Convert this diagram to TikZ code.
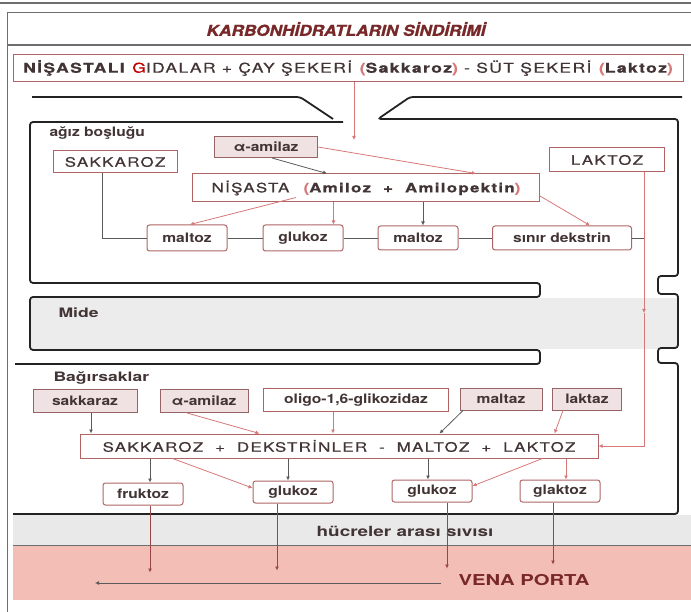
\documentclass[tikz,border=0pt]{standalone}
\usepackage{fontspec}
\setmainfont{TeX Gyre Heros}[FakeStretch=1.2]
\newfontfamily\capsf{TeX Gyre Heros}[FakeStretch=1.3,LetterSpace=10,FakeBold=0.6]
\newfontfamily\widef{TeX Gyre Heros}[FakeStretch=1.35]
\newfontfamily\titlef{texgyreheros-bolditalic.otf}[FakeStretch=1.15,FakeBold=1]
\usetikzlibrary{arrows.meta,calc}
\definecolor{boxred}{RGB}{176,100,100}
\definecolor{txt}{RGB}{66,52,52}
\definecolor{enzfill}{RGB}{240,226,226}
\definecolor{enzdraw}{RGB}{150,100,100}
\definecolor{lred}{RGB}{214,120,120}
\definecolor{dred}{RGB}{150,70,70}
\definecolor{lgray}{RGB}{90,90,90}
\definecolor{wallc}{RGB}{35,35,35}
\definecolor{framec}{RGB}{110,110,110}
\definecolor{midegray}{RGB}{236,236,236}
\definecolor{bandgray}{RGB}{233,233,233}
\definecolor{vpink}{RGB}{243,190,182}
\definecolor{titlered}{RGB}{120,40,40}

\begin{document}
\begin{tikzpicture}[x=1pt,y=-1pt,font=\fontsize{13}{15}\selectfont,text=txt,
  wall/.style={line width=1.8pt,draw=wallc,rounded corners=3pt},
  bx/.style={draw=boxred,line width=1pt,fill=white,text=txt,inner sep=0pt},
  enz/.style={bx,fill=enzfill,draw=enzdraw,font=\fontsize{13}{15}\selectfont\bfseries},
  prod/.style={bx,rounded corners=2.5pt,font=\fontsize{13}{15}\selectfont\bfseries},
  capsbox/.style={bx,font=\fontsize{13}{15}\selectfont\capsf},
  lbl/.style={anchor=west,font=\fontsize{13}{15}\selectfont\bfseries},
  gl/.style={draw=lgray,line width=0.8pt},
  rl/.style={draw=lred,line width=0.8pt},
  dl/.style={draw=dred,line width=0.8pt},
  tip/.style={-{Latex[length=4pt,width=4pt]}}]
  \useasboundingbox (0,0) rectangle (691,612);
  % bands
  \fill[midegray] (31,298) rectangle (677,349);
  \fill[bandgray] (13,515) rectangle (691,545);
  \fill[vpink] (13,545) rectangle (691,600);
  \draw[framec,line width=0.6pt] (13,545) -- (691,545);
  % frame
  \draw[framec,line width=1.4pt] (0,3) -- (691,3);
  \draw[framec,line width=0.8pt] (7,612) -- (7,12) -- (691,12);
  \draw[framec,line width=1.4pt] (7,45) -- (691,45);
  % walls
  \draw[wall] (32,97) -- (300,97) -- (333,119);
  \draw[wall] (682,97) -- (410,97) -- (378,119) -- (678,119) -- (678,276) -- (658,276)
    -- (658,294) -- (678,294) -- (678,348) -- (658,348) -- (658,363) -- (678,363)
    -- (678,514) -- (13,514);
  \draw[wall] (343,122) -- (30,122) -- (30,283) -- (540,283) -- (540,297) -- (30,297)
    -- (30,350) -- (540,350) -- (540,364) -- (15,364);

  \node[text=titlered,font=\fontsize{15}{17}\selectfont\titlef] (title) at (346,29)
    {KARBONHİDRATLARIN SİNDİRİMİ};
  \node[bx,minimum width=670pt,minimum height=27pt,font=\fontsize{13.5}{15}\selectfont\capsf] (foods) at (348,68)
    {\textbf{NİŞASTALI} {\color{red!75!black}G}IDALAR + ÇAY ŞEKERİ \textbf{{\color{lred}(}Sakkaroz{\color{lred})}}
     - SÜT ŞEKERİ \textbf{{\color{lred}(}Laktoz{\color{lred})}}};
  \coordinate (mouthin) at (354,140);

  % agiz boslugu
  \node[lbl] (agiz) at (46,133) {ağız boşluğu};
  \node[capsbox,minimum width=124pt,minimum height=22pt] (sakkarozA) at (115,162) {SAKKAROZ};
  \node[enz,minimum width=103pt,minimum height=21pt] (amilazA) at (266,147) {α-amilaz};
  \node[capsbox,minimum width=347pt,minimum height=28pt] (nisasta) at (366,188)
    {NİŞASTA\quad\textbf{{\color{lred}(}Amiloz \ + \ Amilopektin{\color{lred})}}};
  \node[capsbox,minimum width=115pt,minimum height=24pt] (laktozA) at (607,160) {LAKTOZ};
  \node[prod,minimum width=80pt,minimum height=26pt] (maltozA) at (187,238) {maltoz};
  \node[prod,minimum width=80pt,minimum height=26pt] (glukozA) at (303,238) {glukoz};
  \node[prod,minimum width=80pt,minimum height=24pt] (maltozB) at (418,238) {maltoz};
  \node[prod,minimum width=139pt,minimum height=24pt] (dekstrin) at (562,238) {sınır dekstrin};
  \coordinate (lktop) at ([xshift=37pt]laktozA.south);
  \coordinate (lkmid) at (lktop |- 0,313);

  % mide
  \node[lbl,font=\fontsize{13}{15}\selectfont\widef\bfseries] (mide) at (55,313) {Mide};

  % bagirsaklar
  \node[lbl,font=\fontsize{13}{15}\selectfont\widef\bfseries] (bag) at (50,378) {Bağırsaklar};
  \node[enz,minimum width=104pt,minimum height=23pt] (sakkaraz) at (85,401) {sakkaraz};
  \node[enz,minimum width=88pt,minimum height=23pt] (amilazB) at (204,401) {α-amilaz};
  \node[bx,minimum width=185pt,minimum height=23pt,font=\fontsize{13}{15}\selectfont\bfseries] (oligo) at (356,400)
    {oligo-1,6-glikozidaz};
  \node[enz,minimum width=82pt,minimum height=22pt] (maltaz) at (501,399) {maltaz};
  \node[enz,minimum width=69pt,minimum height=22pt] (laktaz) at (587,399) {laktaz};
  \node[capsbox,minimum width=518pt,minimum height=24pt] (mainbox) at (339,446)
    {SAKKAROZ \ + \ DEKSTRİNLER \ - \ MALTOZ \ + \ LAKTOZ};
  \node[prod,minimum width=80pt,minimum height=22pt] (fruktoz) at (143,494) {fruktoz};
  \node[prod,minimum width=80pt,minimum height=22pt] (glukozB) at (293,492) {glukoz};
  \node[prod,minimum width=80pt,minimum height=22pt] (glukozC) at (432,491) {glukoz};
  \node[prod,minimum width=80pt,minimum height=22pt] (glaktoz) at (560,491) {glaktoz};

  % sivi ve vena porta
  \node[font=\fontsize{14}{16}\selectfont\widef\bfseries] (sivi) at (405,531) {hücreler arası sıvısı};
  \node[anchor=west,text=titlered,font=\fontsize{15}{17}\selectfont\widef\bfseries] (vena) at (455,580) {VENA PORTA};
  \coordinate (vpend) at (95,583);

  % connectors: mouth
  \draw[rl,tip] (foods.south -| mouthin) -- (mouthin);
  \draw[gl,tip] ([xshift=6pt]amilazA.south) -- ([xshift=135pt]nisasta.north west);
  \draw[rl,tip] (amilazA.east) -- ([xshift=284pt]nisasta.north west);
  \draw[rl,tip] ([xshift=104pt,yshift=5pt]nisasta.south west) -- ([xshift=3pt]maltozA.north);
  \draw[rl,tip] ([xshift=-10pt]glukozA.north east |- nisasta.south) -- ([xshift=-10pt]glukozA.north east);
  \draw[gl,tip] ([xshift=5pt]maltozB.north |- nisasta.south) -- ([xshift=5pt]maltozB.north);
  \draw[rl,tip] ([yshift=-8pt]nisasta.east) -- ([xshift=28pt]dekstrin.north);
  \draw[gl] ([xshift=-13pt]sakkarozA.south) |- (maltozA.west);
  \draw[gl] (maltozA) -- (glukozA);
  \draw[gl] (glukozA) -- (maltozB);
  \draw[gl] (maltozB) -- (dekstrin);
  \draw[gl] (dekstrin.east) -- (dekstrin.east -| lktop);
  \draw[rl,tip] (lktop) -- (lkmid);
  \draw[rl,tip] (lkmid) |- (mainbox.east);

  % connectors: intestine
  \draw[gl,tip] ([xshift=6pt]sakkaraz.south) -- ([xshift=6pt]sakkaraz.south |- mainbox.north);
  \draw[rl,tip] ([xshift=-17pt]amilazB.south) -- ([xshift=180pt]mainbox.north west);
  \draw[rl,tip] ([xshift=-23pt]oligo.south) -- ([xshift=-23pt]oligo.south |- mainbox.north);
  \draw[gl,tip] ([xshift=-38pt]maltaz.south) -- ([xshift=360pt]mainbox.north west);
  \draw[rl,tip] ([xshift=-24pt]laktaz.south) -- ([xshift=475pt]mainbox.north west);
  \draw[gl,tip] ([xshift=7pt]fruktoz.north |- mainbox.south) -- ([xshift=7pt]fruktoz.north);
  \draw[rl,tip] ([xshift=93pt]mainbox.south west) -- ([yshift=4pt]glukozB.west);
  \draw[gl,tip] ([xshift=-5pt]glukozB.north |- mainbox.south) -- ([xshift=-5pt]glukozB.north);
  \draw[gl,tip] ([xshift=-4pt]glukozC.north |- mainbox.south) -- ([xshift=-4pt]glukozC.north);
  \draw[rl,tip] ([xshift=463pt]mainbox.south west) -- ([yshift=5pt]glukozC.east);
  \draw[rl,tip] ([xshift=6pt]glaktoz.north |- mainbox.south) -- ([xshift=6pt]glaktoz.north);

  % to vena porta
  \draw[dl,tip] ([xshift=7pt]fruktoz.south) -- ++(0,67);
  \draw[dl,tip] ([xshift=-16pt]glukozB.south) -- ++(0,67);
  \draw[dl,tip] ([xshift=15pt]glukozC.south) -- ++(0,66);
  \draw[dl,tip] ([xshift=-7pt]glaktoz.south) -- ++(0,62);
  \draw[gl,tip] ([xshift=-14pt,yshift=-3pt]vena.west) -- (vpend);
\end{tikzpicture}
\end{document}
